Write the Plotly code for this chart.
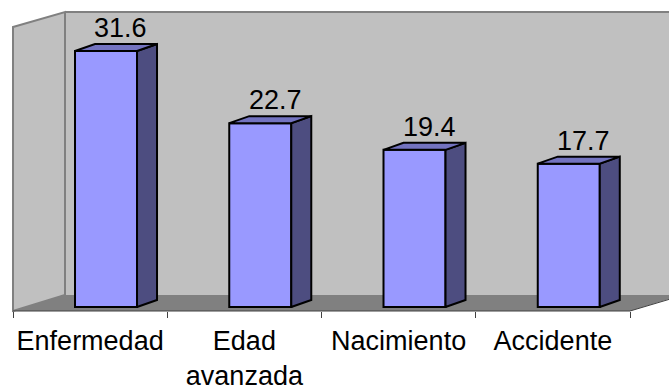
import plotly.graph_objects as go

categories = ["Enfermedad", "Edad<br>avanzada", "Nacimiento", "Accidente"]
values = [31.6, 22.7, 19.4, 17.7]
value_labels = ["31.6", "22.7", "19.4", "17.7"]

W, H = 669, 386
ML, MR, MT, MB = 13, 39, 12, 75
PW, PH = W - ML - MR, H - MT - MB
XR = [-0.5, 3.5]
PXU = PW / (XR[1] - XR[0])           # px per category unit
PYU = 8.1                             # px per value unit
Y0PX = 307                            # pixel of value 0
YR = [-(MT + PH - Y0PX) / PYU, (Y0PX - MT) / PYU]

def px(x):  # pixel -> paper x
    return (x - ML) / PW

def py(y):  # pixel -> paper y
    return (MT + PH - y) / PH

BAR_OFF, BAR_W = -0.098, 0.402
DX, DY = 20 / PXU, 7 / PYU

FRONT = "#9999FF"
SIDE = "#4D4D80"
TOP = "#7373C0"
FONT = "Arial, Liberation Sans"

fig = go.Figure()

idx = list(range(len(categories)))
fig.add_trace(go.Bar(
    x=idx, y=values, width=BAR_W, offset=BAR_OFF,
    marker=dict(color=FRONT, line=dict(color="black", width=2)),
    hoverinfo="skip", showlegend=False,
))

for i, v in zip(idx, values):
    xl, xr = i + BAR_OFF, i + BAR_OFF + BAR_W
    fig.add_trace(go.Scatter(
        x=[xr, xr, xr + DX, xr + DX, xr], y=[0, v, v + DY, DY, 0],
        mode="lines", fill="toself", fillcolor=SIDE,
        line=dict(color="black", width=2), hoverinfo="skip", showlegend=False,
    ))
    fig.add_trace(go.Scatter(
        x=[xl, xr, xr + DX, xl + DX, xl], y=[v, v, v + DY, v + DY, v],
        mode="lines", fill="toself", fillcolor=TOP,
        line=dict(color="black", width=2), hoverinfo="skip", showlegend=False,
    ))

for i, v, t in zip(idx, values, value_labels):
    fig.add_annotation(x=i + 0.2, y=v, text=t, showarrow=False,
                       yanchor="middle", yshift=23,
                       font=dict(size=27, color="black", family=FONT))

def path(pts):
    return "M " + " L ".join(f"{px(a)},{py(b)}" for a, b in pts) + " Z"

shapes = [
    # back wall
    dict(type="path", xref="paper", yref="paper", layer="below",
         path=path([(65, 12), (672, 12), (672, 295), (65, 295)]),
         fillcolor="#C0C0C0", line=dict(width=0)),
    # left wall
    dict(type="path", xref="paper", yref="paper", layer="below",
         path=path([(13, 27), (65, 12), (65, 295), (13, 311)]),
         fillcolor="#C0C0C0", line=dict(color="#808080", width=2)),
    # back wall top edge
    dict(type="line", xref="paper", yref="paper", layer="below",
         x0=px(65), y0=py(12), x1=px(672), y1=py(12),
         line=dict(color="#808080", width=2)),
    # floor
    dict(type="path", xref="paper", yref="paper", layer="below",
         path=path([(13, 311), (65, 295), (672, 295), (672, 298), (630, 311)]),
         fillcolor="#808080", line=dict(width=0)),
    # floor front edge
    dict(type="line", xref="paper", yref="paper", layer="below",
         x0=px(13), y0=py(311), x1=px(630), y1=py(311),
         line=dict(color="#404040", width=1)),
    dict(type="line", xref="paper", yref="paper", layer="below",
         x0=px(630), y0=py(311), x1=px(672), y1=py(298.5),
         line=dict(color="#404040", width=1)),
]

fig.update_layout(
    width=W, height=H,
    margin=dict(l=ML, r=MR, t=MT, b=MB, autoexpand=False),
    paper_bgcolor="white", plot_bgcolor="rgba(0,0,0,0)",
    shapes=shapes,
    font=dict(family=FONT, size=27, color="black"),
    xaxis=dict(range=XR, tickvals=idx, ticktext=categories, ticks="",
               showgrid=False, zeroline=False, showline=False, automargin=False,
               tickfont=dict(size=27, color="black", family=FONT),
               ticklabelstandoff=11,
               minor=dict(tickvals=[-0.5, 0.5, 1.5, 2.5, 3.5], ticks="outside",
                          ticklen=6, tickcolor="#404040", tickwidth=1, showgrid=False),
               fixedrange=True),
    yaxis=dict(range=YR, visible=False, fixedrange=True, automargin=False),
    showlegend=False,
)

fig.write_html("out.html", config={"displayModeBar": False})
